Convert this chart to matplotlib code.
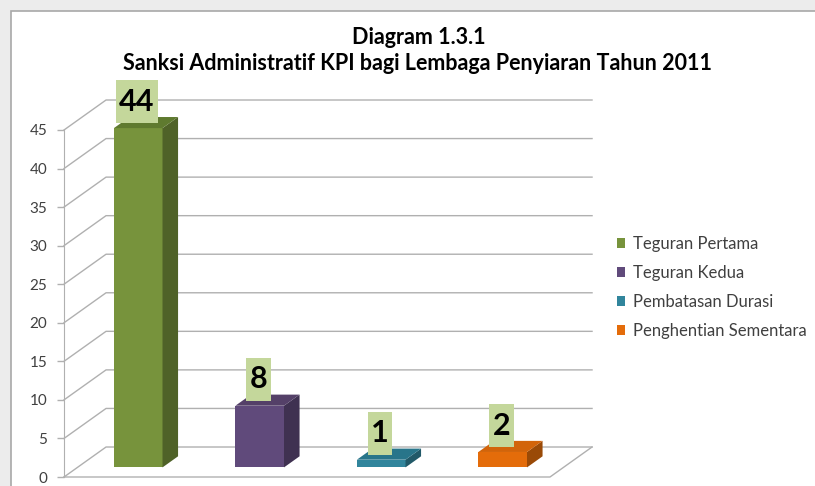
import matplotlib.pyplot as plt
from matplotlib.patches import Polygon, Rectangle

categories = ['Teguran Pertama', 'Teguran Kedua', 'Pembatasan Durasi', 'Penghentian Sementara']
values = [44, 8, 1, 2]
front_colors = ['#77933c', '#604a7b', '#31859c', '#e46c0a']
side_colors = ['#4f6228', '#3f3151', '#215968', '#9a4a07']
top_colors = ['#5f7a2f', '#544068', '#28758a', '#d2640a']
yticks = list(range(0, 50, 5))
title1 = 'Diagram 1.3.1'
title2 = 'Sanksi Administratif KPI bagi Lembaga Penyiaran Tahun 2011'

plt.rcParams['font.family'] = ['Lato', 'DejaVu Sans']

W, H = 815, 486
fig = plt.figure(figsize=(W / 100, H / 100), dpi=100)
fig.patch.set_facecolor('#ececec')
fig.add_artist(Rectangle((11 / W, -0.1), 1.2, 1.1 - 11 / H, transform=fig.transFigure,
                         facecolor='white', edgecolor='#a8a8a8', lw=1.2, zorder=0))

# front plane of the 3d box
ax = fig.add_axes([64 / W, (H - 477) / H, (550 - 64) / W, (477 - 130) / H])
ax.set_xlim(-0.5, 3.5)
ax.set_ylim(0, 45)
ax.patch.set_alpha(0)
for s in ['top', 'right', 'bottom']:
    ax.spines[s].set_visible(False)
ax.spines['left'].set_color('#b0b0b0')
ax.set_xticks([])
ax.set_yticks(yticks)
ax.tick_params(axis='y', length=5, width=1, color='#b0b0b0', labelcolor='#404040',
               labelsize=11, pad=7)

DX, DY = 0.346, 3.89       # depth of the box
f0, f1 = 0.32, 0.69        # bars sit in this slice of the depth
grid = '#b0b0b0'

for v in yticks:
    ax.plot([-0.5, -0.5 + DX, 3.5 + DX], [v, v + DY, v + DY], color=grid, lw=1,
            clip_on=False, zorder=1)
ax.plot([-0.5, 3.5, 3.5 + DX], [0, 0, DY], color=grid, lw=1, clip_on=False, zorder=1)

bw = 0.4
d = f1 - f0
base = f0 * DY
for i, v in enumerate(values):
    xc = i + f0 * DX
    ax.bar(xc, v, width=bw, bottom=base, color=front_colors[i], label=categories[i],
           zorder=3, clip_on=False)
    xr = xc + bw / 2
    xl = xc - bw / 2
    top = base + v
    side = Polygon([(xr, base), (xr + d * DX, base + d * DY), (xr + d * DX, top + d * DY), (xr, top)],
                   closed=True, facecolor=side_colors[i], edgecolor='none', zorder=3, clip_on=False)
    ax.add_patch(side)
    lid = Polygon([(xl, top), (xr, top), (xr + d * DX, top + d * DY), (xl + d * DX, top + d * DY)],
                  closed=True, facecolor=top_colors[i], edgecolor='none', zorder=3, clip_on=False)
    ax.add_patch(lid)

    # value label box
    txt = str(v)
    lw_box = 0.06 + 0.14 * len(txt)
    lh_box = 5.6
    lx = xc - 0.01 - lw_box / 2
    ly = top + 0.6
    ax.add_patch(Rectangle((lx, ly), lw_box, lh_box, facecolor='#c4d79b', edgecolor='none',
                           zorder=4, clip_on=False))
    ax.text(lx + lw_box / 2, ly + lh_box / 2, txt, ha='center', va='center', fontsize=22,
            fontweight='bold', color='black', zorder=5, clip_on=False)

fig.text(419 / W, 1 - 37 / H, title1, ha='center', va='center', fontsize=15.5, fontweight='bold')
fig.text(417 / W, 1 - 63 / H, title2, ha='center', va='center', fontsize=15.5, fontweight='bold')

leg = fig.legend(loc='upper left', bbox_to_anchor=(617 / W, 1 - 236 / H), frameon=False,
                 fontsize=12, labelspacing=0.78, handlelength=0.5, handleheight=0.5,
                 handletextpad=0.45, borderpad=0, borderaxespad=0)
for t in leg.get_texts():
    t.set_color('#404040')

fig.savefig('out.png', dpi=100, facecolor=fig.get_facecolor())
